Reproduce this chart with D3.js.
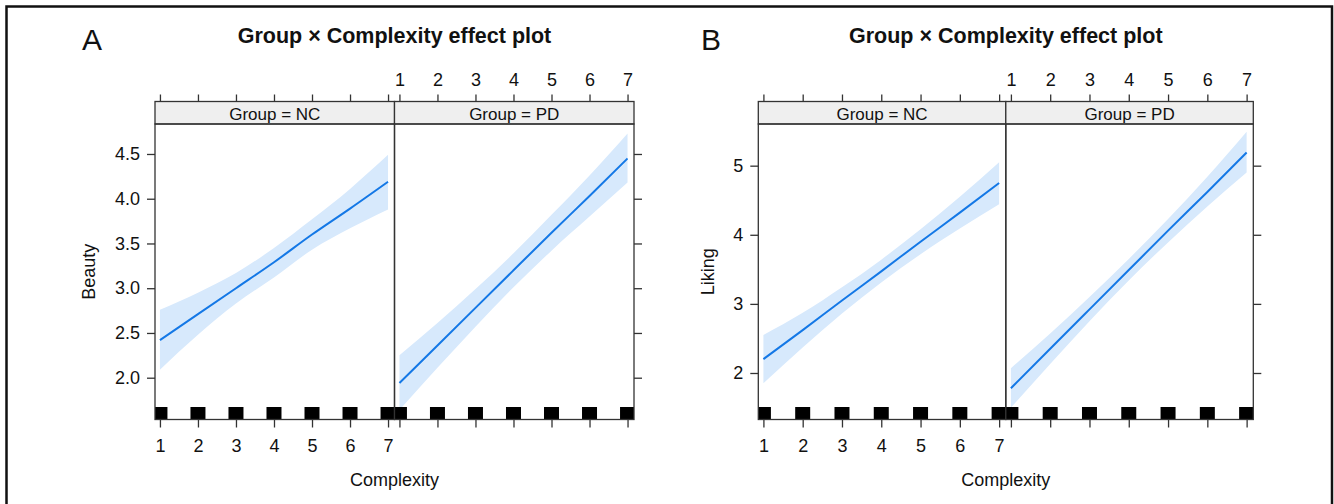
<!DOCTYPE html>
<html>
<head>
<meta charset="utf-8">
<script src="https://cdn.jsdelivr.net/npm/d3@7"></script>
<style>
  body { margin: 0; background: #fff; }
  text { font-family: "Liberation Sans", Arial, sans-serif; fill: #111; }
</style>
</head>
<body>
<div id="chart"></div>
<script>
// complexity levels and groups
var complexity = [1, 2, 3, 4, 5, 6, 7];
var groups = ["NC", "PD"];

// panel A: Beauty
var beautyNC      = [2.42, 2.71, 3.00, 3.29, 3.60, 3.89, 4.19];
var beautyNCLower = [2.09, 2.48, 2.83, 3.12, 3.43, 3.67, 3.88];
var beautyNCUpper = [2.76, 2.95, 3.17, 3.45, 3.77, 4.11, 4.49];
var beautyPD      = [1.94, 2.36, 2.78, 3.20, 3.62, 4.03, 4.45];
var beautyPDLower = [1.64, 2.11, 2.57, 3.01, 3.42, 3.80, 4.18];
var beautyPDUpper = [2.25, 2.61, 2.99, 3.39, 3.82, 4.26, 4.73];
var beautyTicks = [2.0, 2.5, 3.0, 3.5, 4.0, 4.5];

// panel B: Liking
var likingNC      = [2.20, 2.62, 3.05, 3.47, 3.90, 4.32, 4.75];
var likingNCLower = [1.85, 2.37, 2.86, 3.31, 3.72, 4.09, 4.44];
var likingNCUpper = [2.55, 2.87, 3.24, 3.64, 4.08, 4.55, 5.05];
var likingPD      = [1.78, 2.35, 2.92, 3.49, 4.06, 4.62, 5.19];
var likingPDLower = [1.50, 2.13, 2.75, 3.34, 3.89, 4.41, 4.90];
var likingPDUpper = [2.07, 2.57, 3.10, 3.65, 4.23, 4.84, 5.49];
var likingTicks = [2, 3, 4, 5];

var xTicks = [1, 2, 3, 4, 5, 6, 7];
var titleText = "Group \u00d7 Complexity effect plot";

var width = 1334, height = 504;
var svg = d3.select("#chart").append("svg")
  .attr("width", width).attr("height", height);

// outer frame
svg.append("rect")
  .attr("x", 6.5).attr("y", 6.5)
  .attr("width", 1325.5).attr("height", 600)
  .attr("fill", "none").attr("stroke", "#111").attr("stroke-width", 2.5);

var lineCol = "#1478e6", bandCol = "#d7e9fc", frameCol = "#333";
var stripTop = 101.5, stripBot = 124, panelBot = 419.5;

var figures = [
  { tag: "A", tagX: 82, left: 155, pw: 239.5, yName: "Beauty", yLabX: 88.3,
    yDomain: [1.533, 4.835], ticks: beautyTicks, fmt: d3.format(".1f"),
    fit: [beautyNC, beautyPD], lo: [beautyNCLower, beautyPDLower], hi: [beautyNCUpper, beautyPDUpper] },
  { tag: "B", tagX: 701, left: 758.3, pw: 247.5, yName: "Liking", yLabX: 707.5,
    yDomain: [1.327, 5.603], ticks: likingTicks, fmt: d3.format("d"),
    fit: [likingNC, likingPD], lo: [likingNCLower, likingPDLower], hi: [likingNCUpper, likingPDUpper] }
];

figures.forEach(function (f, fi) {
  var g = svg.append("g");
  var mid = f.left + f.pw;
  var y = d3.scaleLinear().domain(f.yDomain).range([panelBot, stripBot]);

  g.append("text").text(f.tag)
    .attr("x", f.tagX).attr("y", 50)
    .style("font-size", "30px");

  g.append("text").text(titleText)
    .attr("x", mid).attr("y", 43)
    .attr("text-anchor", "middle")
    .style("font-size", "21.5px").style("font-weight", "bold");

  groups.forEach(function (grp, gi) {
    var x0 = f.left + gi * f.pw;
    var x = d3.scaleLinear().domain([0.87, 7.17]).range([x0, x0 + f.pw]);
    var rows = complexity.map(function (c, i) {
      return { c: c, fit: f.fit[gi][i], lo: f.lo[gi][i], hi: f.hi[gi][i] };
    });

    var clipId = "clip" + fi + gi;
    g.append("clipPath").attr("id", clipId)
      .append("rect").attr("x", x0).attr("y", stripBot)
      .attr("width", f.pw).attr("height", panelBot - stripBot);

    var p = g.append("g").attr("clip-path", "url(#" + clipId + ")");

    p.append("path").datum(rows)
      .attr("fill", bandCol)
      .attr("d", d3.area().curve(d3.curveMonotoneX)
        .x(function (d) { return x(d.c); })
        .y0(function (d) { return y(d.lo); })
        .y1(function (d) { return y(d.hi); }));

    p.append("path").datum(rows)
      .attr("fill", "none").attr("stroke", lineCol).attr("stroke-width", 2)
      .attr("d", d3.line().curve(d3.curveMonotoneX)
        .x(function (d) { return x(d.c); })
        .y(function (d) { return y(d.fit); }));

    // rug of observed complexity levels
    p.selectAll(".rug").data(complexity).enter().append("rect")
      .attr("x", function (d) { return x(d) - 7.5; })
      .attr("y", 407)
      .attr("width", 15).attr("height", panelBot - 407)
      .attr("fill", "#000");

    // strip
    g.append("rect")
      .attr("x", x0).attr("y", stripTop)
      .attr("width", f.pw).attr("height", stripBot - stripTop)
      .attr("fill", "#efefef").attr("stroke", frameCol).attr("stroke-width", 1.3);
    g.append("text").text("Group = " + grp)
      .attr("x", x0 + f.pw / 2).attr("y", 119.5)
      .attr("text-anchor", "middle").style("font-size", "17px");

    // panel border
    g.append("rect")
      .attr("x", x0).attr("y", stripBot)
      .attr("width", f.pw).attr("height", panelBot - stripBot)
      .attr("fill", "none").attr("stroke", frameCol).attr("stroke-width", 1.3);

    var bottom = d3.axisBottom(x).tickValues(xTicks).tickFormat(d3.format("d")).tickSize(8).tickPadding(12);
    var top = d3.axisTop(x).tickValues(xTicks).tickFormat(d3.format("d")).tickSize(7).tickPadding(9);
    if (gi === 1) bottom.tickFormat("");
    if (gi === 0) top.tickFormat("");

    var ab = g.append("g").attr("transform", "translate(0," + panelBot + ")").call(bottom);
    var at = g.append("g").attr("transform", "translate(0," + stripTop + ")").call(top);
    [ab, at].forEach(function (a) {
      a.select(".domain").remove();
      a.selectAll("line").attr("stroke", frameCol).attr("stroke-width", 1.3);
      a.selectAll("text").style("font-size", "18px").attr("font-family", null).attr("fill", "#111");
    });

    var ay;
    if (gi === 0) {
      ay = g.append("g").attr("transform", "translate(" + x0 + ",0)")
        .call(d3.axisLeft(y).tickValues(f.ticks).tickFormat(f.fmt).tickSize(8).tickPadding(7));
    } else {
      ay = g.append("g").attr("transform", "translate(" + (x0 + f.pw) + ",0)")
        .call(d3.axisRight(y).tickValues(f.ticks).tickFormat("").tickSize(8));
    }
    ay.select(".domain").remove();
    ay.selectAll("line").attr("stroke", frameCol).attr("stroke-width", 1.3);
    ay.selectAll("text").style("font-size", "18px").attr("font-family", null).attr("fill", "#111");
  });

  g.append("text").text(f.yName)
    .attr("transform", "translate(" + f.yLabX + "," + ((stripBot + panelBot) / 2) + ") rotate(-90)")
    .attr("text-anchor", "middle").attr("dy", "0.35em")
    .style("font-size", "18px");

  g.append("text").text("Complexity")
    .attr("x", mid).attr("y", 486)
    .attr("text-anchor", "middle").style("font-size", "18px");
});
</script>
</body>
</html>
